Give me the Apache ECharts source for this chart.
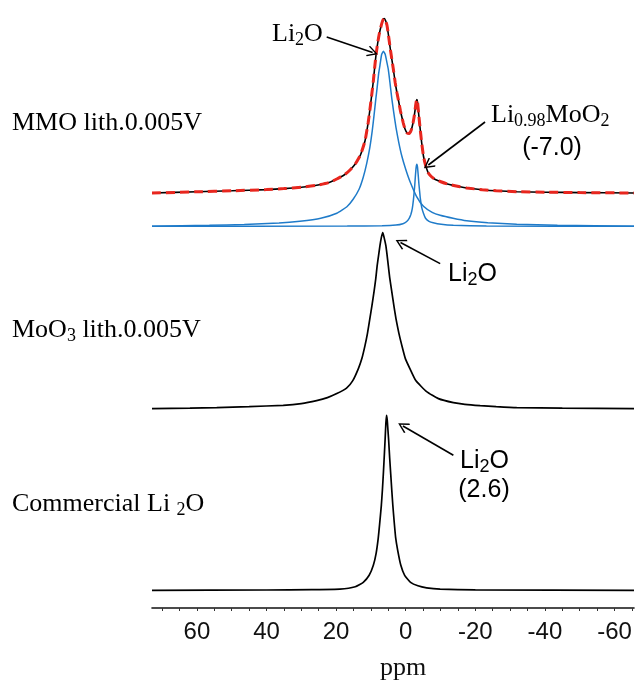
<!DOCTYPE html>
<html>
<head>
<meta charset="utf-8">
<script src="https://cdn.jsdelivr.net/npm/echarts@6/dist/echarts.min.js"></script>
<style>
  body { margin: 0; background: #fff; }
  #chart { width: 636px; height: 684px; }
</style>
</head>
<body>
<div id="chart"></div>
<script>
// chemical shift axis (ppm)
const ppmLabels = [60, 40, 20, 0, -20, -40, -60]
const ppmTicks = [70, 65, 60, 55, 50, 45, 40, 35, 30, 25, 20, 15, 10, 5, 0, -5, -10, -15, -20, -25, -30, -35, -40, -45, -50, -55, -60, -65]

// MMO lith. 0.005V : measured spectrum (black) and fit (red dashed, same trace)
const mmoSpectrum = [[72.9, 0], [60, 1.2], [50, 2.2], [40, 3.4], [35, 4.4], [30, 5.8], [25.6, 7.7], [22, 10.5], [19.8, 14], [17.5, 18.5], [16, 23], [14.5, 29], [13, 38], [11.7, 52], [10.8, 70], [10.3, 83], [9.8, 97], [9.3, 112], [8.9, 126], [8.5, 139], [8.0, 151], [7.6, 159], [7.0, 168], [6.6, 172.5], [6.2, 174.5],
  [5.8, 172.5], [5.4, 168], [5.0, 159], [4.5, 146], [4.0, 134], [3.6, 125], [3.0, 110], [2.5, 100], [2.1, 93], [1.5, 82], [0.7, 70], [0.2, 64], [-0.4, 60], [-1.0, 59.5], [-1.6, 63], [-2.1, 70], [-2.5, 78], [-2.8, 86], [-3.0, 91], [-3.2, 93.5], [-3.4, 91], [-3.7, 80], [-4.1, 66], [-4.6, 50], [-5.1, 37], [-5.6, 29], [-6.0, 24.5], [-6.5, 20], [-7.5, 16], [-8.5, 13.5], [-9.9, 11.5], [-12, 9], [-15.6, 6.2], [-17.5, 5], [-22, 3.3], [-26, 2.2], [-32, 1.3], [-40, 0.8], [-50, 0.4], [-65.6, 0]]
// deconvoluted components (blue)
const li2oComponent = [[72.9, 0], [56.4, 1], [46.4, 1.8], [36.4, 3.2], [30.4, 5], [24.4, 8], [19.8, 13], [16.9, 19.5], [15.1, 27], [13.4, 37], [12.2, 49], [11.2, 63], [10.3, 79], [9.6, 96], [9.1, 111], [8.6, 127], [8.2, 139], [7.8, 152], [7.4, 161], [6.9, 172], [6.4, 175],
  [5.9, 172], [5.4, 164], [5.0, 157], [4.5, 143], [4.0, 128], [3.4, 113], [2.8, 99], [2.0, 84], [1.1, 70], [0.0, 57], [-1.2, 45], [-3.1, 30], [-5.1, 20], [-7.6, 14], [-9.9, 11], [-13.6, 8], [-17.5, 5.5], [-23.6, 3.5], [-31.9, 2], [-43.6, 1], [-65.6, 0]]
const limoo2Component = [[72.9, 0], [16.8, 0.2], [6.8, 0.5], [2.8, 1.2], [0.8, 2.6], [-0.2, 4.5], [-1.0, 8], [-1.5, 12], [-1.9, 18], [-2.2, 26], [-2.4, 33], [-2.6, 41], [-2.8, 51], [-3.0, 59], [-3.2, 62],
  [-3.4, 59], [-3.6, 51], [-3.8, 42], [-4.0, 35], [-4.2, 28], [-4.6, 19], [-5.1, 13], [-5.7, 8], [-6.7, 5], [-7.9, 3.5], [-10.2, 2], [-13.7, 1], [-23.2, 0.3], [-65.6, 0]]
// MoO3 lith. 0.005V
const moo3Spectrum = [[72.9, 0], [62, 0.4], [54.3, 1], [45, 2], [35.2, 3.3], [30, 5], [25.6, 8], [22.5, 11], [19.8, 15], [17.0, 20.5], [15.2, 28], [13.6, 40], [12.6, 50], [11.7, 63], [11.0, 75], [10.3, 90], [9.7, 103], [9.1, 117], [8.6, 130], [8.2, 143], [7.8, 153], [7.4, 163], [7.0, 171], [6.6, 176],
  [6.2, 171], [5.7, 163], [5.4, 155], [5.0, 143], [4.6, 131], [4.0, 117], [3.4, 103], [2.8, 90], [2.0, 76], [1.1, 63], [0.1, 50], [-1.2, 40], [-2.9, 28], [-6.0, 17], [-9.4, 10], [-13.7, 6], [-17, 4.3], [-21.4, 3], [-26, 2], [-31.9, 1], [-45, 0.5], [-65.6, 0]]
// Commercial Li2O
const li2oSpectrum = [[72.9, 0], [40, 0.3], [27, 0.7], [18.9, 1.2], [14.5, 3.5], [12.2, 8], [10.5, 15], [9.3, 25], [8.5, 37], [7.9, 52], [7.5, 66], [7.0, 85], [6.7, 100], [6.4, 118], [6.1, 138], [5.9, 152], [5.7, 167], [5.5, 175],
  [5.3, 170], [5.1, 160], [4.9, 150], [4.6, 132], [4.3, 116], [4.0, 100], [3.7, 85], [3.3, 68], [2.9, 53], [2.3, 40], [1.4, 25], [0.3, 15], [-1.4, 8], [-3.5, 4.5], [-6, 2.5], [-9.9, 1.2], [-20, 0.4], [-65.6, 0]]

const serif = 'Liberation Serif'
const sans = 'Liberation Sans'

// vertical stacking of the traces
function shift (data, offset) {
  return data.map(function (p) { return [p[0], p[1] + offset] })
}

function trace (name, data, offset, color, width, dash) {
  return {
    name: name,
    type: 'line',
    data: shift(data, offset),
    showSymbol: false,
    smooth: 0.15,
    silent: true,
    lineStyle: { color: color, width: width, type: dash || 'solid' }
  }
}

const arrowHead = 'path://M5,0 L10,9 L9,10 L5,2.6 L1,10 L0,9 Z'

function arrow (from, to) {
  return [{ coord: from }, { coord: to }]
}

const richSerif = {
  a: { fontFamily: serif, fontSize: 26, lineHeight: 30, color: '#111' },
  s: { fontFamily: serif, fontSize: 18, lineHeight: 12, verticalAlign: 'bottom', color: '#111' }
}
const richSans = {
  a: { fontFamily: sans, fontSize: 25, lineHeight: 30, color: '#111' },
  s: { fontFamily: sans, fontSize: 18, lineHeight: 10, verticalAlign: 'bottom', color: '#111' }
}

function label (x, y, text, rich, align) {
  return {
    type: 'text',
    x: x,
    y: y,
    silent: true,
    style: { text: text, rich: rich, align: align || 'left', verticalAlign: 'middle' }
  }
}

const chart = echarts.init(document.getElementById('chart'))

const seriesList = [
  trace('Li2O component', li2oComponent, 381.7, '#1f7bc9', 1.5),
  trace('Li0.98MoO2 component', limoo2Component, 381.7, '#1f7bc9', 1.5),
  trace('MMO lith.0.005V', mmoSpectrum, 415, '#000', 1.6),
  trace('MMO fit', mmoSpectrum, 415, '#e8261e', 3, [9, 5]),
  trace('MoO3 lith.0.005V', moo3Spectrum, 199.4, '#000', 1.7),
  trace('Commercial Li2O', li2oSpectrum, 17.7, '#000', 1.7)
]

seriesList[5].markLine = {
  silent: true,
  animation: false,
  symbol: ['none', arrowHead],
  symbolSize: [11, 11],
  label: { show: false },
  lineStyle: { color: '#000', width: 1.6, type: 'solid' },
  data: [
    arrow([22.7, 571], [9.5, 555.5]),
    arrow([-22.8, 486], [-6.5, 443]),
    arrow([-9.9, 344.4], [1.5, 365.5]),
    arrow([-13.7, 152.7], [0.8, 182])
  ]
}

chart.setOption({
  animation: false,
  grid: { left: 152, right: 2, top: 8, bottom: 76 },
  xAxis: {
    type: 'value',
    inverse: true,
    min: -65.6,
    max: 72.9,
    axisLine: { lineStyle: { color: '#111', width: 1.6 } },
    axisTick: { show: true, customValues: ppmTicks, length: 3, lineStyle: { color: '#333', width: 1 } },
    axisLabel: { customValues: ppmLabels, margin: 12, color: '#111', fontFamily: sans, fontSize: 24 },
    splitLine: { show: false }
  },
  yAxis: {
    type: 'value',
    min: 0,
    max: 600,
    show: false
  },
  series: seriesList,
  graphic: [
    label(12, 123, '{a|MMO lith.0.005V}', richSerif),
    label(12, 330, '{a|MoO}{s|3}{a| lith.0.005V}', richSerif),
    label(12, 504, '{a|Commercial Li }{s|2}{a|O}', richSerif),
    label(272, 34, '{a|Li}{s|2}{a|O}', richSerif),
    label(491, 115, '{a|Li}{s|0.98}{a|MoO}{s|2}', richSerif),
    label(552, 148, '{a|(-7.0)}', richSans, 'center'),
    label(448, 274, '{a|Li}{s|2}{a|O}', richSans),
    label(460, 461, '{a|Li}{s|2}{a|O}', richSans),
    label(484, 490, '{a|(2.6)}', richSans, 'center'),
    {
      type: 'text',
      x: 403,
      y: 668,
      silent: true,
      style: { text: 'ppm', fontFamily: serif, fontSize: 26, fill: '#111', align: 'center', verticalAlign: 'middle' }
    }
  ]
})
</script>
</body>
</html>
